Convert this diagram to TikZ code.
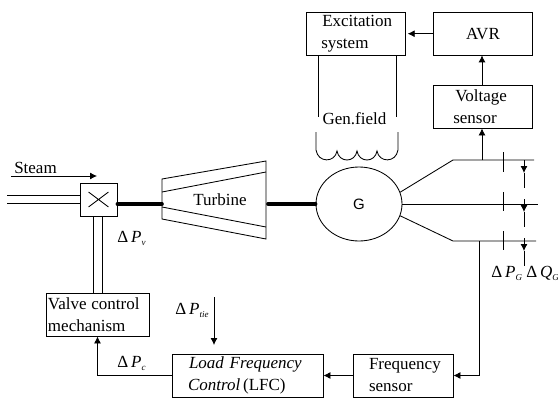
\documentclass[tikz,border=0pt]{standalone}
\usepackage{fontspec}
\setmainfont{Liberation Serif}
\newfontfamily\gfont{Liberation Sans}
\usetikzlibrary{arrows.meta,shapes.geometric,shapes.misc}
\newcommand{\deltalabel}[2]{\fontsize{17}{20}\selectfont\char"0394\,\textit{#1}\raisebox{-3pt}{\fontsize{9}{9}\selectfont\textit{#2}}}
\begin{document}
\begin{tikzpicture}[
            x=1pt, y=-1pt,
            line width=0.85pt,
            flow/.style={-{Latex[length=7pt,width=7pt]}},
            shaft/.style={line width=3.6pt, line cap=round},
            blockbox/.style={draw, rectangle, inner sep=2pt, align=left, font=\fontsize{17}{22}\selectfont},
            lbl/.style={inner sep=0pt, font=\fontsize{17}{20}\selectfont},
            dlabel/.style={inner sep=0pt, anchor=west}
        ]
            \useasboundingbox (0,0) rectangle (558,399);

            % Blocks
            \node[blockbox, text width=95.5pt, minimum height=42.5pt] (exc) at (356,33.7) {\hspace*{14pt}Excitation\\\hspace*{13pt}system};
            \node[blockbox, text width=95.5pt, minimum height=42.5pt, align=center] (avr) at (483,33.7) {AVR};
            \node[blockbox, text width=95.5pt, minimum height=43pt] (volt) at (483,106.5) {\hspace*{20pt}Voltage\\\hspace*{18pt}sensor};
            \node[blockbox, text width=99pt, minimum height=43pt] (valve) at (97.5,314.5) {Valve\hspace{-1pt} control\\mechanism};
            \node[blockbox, text width=147pt, minimum height=43pt] (lfc) at (247.5,375.5) {\hspace*{15pt}\textit{Load Frequency}\\\hspace*{14pt}\textit{Control}\,(LFC)};
            \node[blockbox, text width=96pt, minimum height=43pt] (freq) at (403,375.5) {\hspace*{14pt}Frequency\\\hspace*{14pt}sensor};

            % Valve
            \node[draw, rectangle, inner sep=0pt, minimum width=37pt, minimum height=33pt] (vbox) at (98.5,199.5) {};
            \node[draw, cross out, inner sep=0pt, minimum width=19pt, minimum height=14pt] (vcross) at (vbox.center) {};

            % Turbine
            \coordinate (t1) at (162,179);
            \coordinate (t2) at (266,161);
            \coordinate (t3) at (266,239);
            \coordinate (t4) at (162,219);
            \draw (t1) -- (t2) -- (t3) -- (t4) -- cycle;
            \draw (162,192) -- (266,172);
            \draw (162,207) -- (266,227);
            \node[lbl] (turb) at (220,200) {Turbine};
            \coordinate (tw) at (162,204);
            \coordinate (te) at (268,204);

            % Generator
            \node[draw, ellipse, inner sep=0pt, minimum width=86pt, minimum height=74pt, font=\gfont\fontsize{15}{18}\selectfont] (gen) at (359,204) {G};
            \draw[shaft] (vbox.east |- tw) -- (tw);
            \draw[shaft] (te) -- (gen.west);

            % Steam
            \coordinate (sa) at (7,195);
            \coordinate (sb) at (7,203);
            \draw (sa) -- (sa -| vbox.west);
            \draw (sb) -- (sb -| vbox.west);
            \coordinate (sc) at (11,176);
            \coordinate (sd) at (97,176);
            \draw[flow] (sc) -- (sd);
            \node[lbl] (steam) at (35.5,168) {Steam};

            % Valve stem
            \coordinate (va) at (93,293);
            \coordinate (vb) at (102,293);
            \draw (va) -- (va |- vbox.south);
            \draw (vb) -- (vb |- vbox.south);
            \node[dlabel] (dpv) at (117,238) {\deltalabel{P}{v}};

            % Field winding
            \draw (318,55) -- (318,117);
            \draw (396,55) -- (396,117);
            \node[lbl] (field) at (354.5,119) {Gen.field};
            \draw (316,132) -- (316,150)
                .. controls (318,163) and (335,163) .. (337,151)
                .. controls (339,163) and (355,163) .. (357,151)
                .. controls (359,163) and (375,163) .. (377,151)
                .. controls (379,163) and (396,163) .. (398,150) -- (398,132);

            % Three phase lines
            \coordinate (pa) at (453,160);
            \coordinate (pb) at (534,160);
            \coordinate (pc) at (538,204);
            \coordinate (pd) at (453,241);
            \coordinate (pe) at (536,241);
            \draw (gen.16) -- (pa) -- (pb);
            \draw (gen.east) -- (pc);
            \draw (gen.-16) -- (pd) -- (pe);
            \draw (503,152) -- (503,172);
            \draw (503,192) -- (503,211);
            \draw (503,231) -- (503,250);

            % Measurements
            \coordinate (ma) at (524,160);
            \coordinate (mb) at (524,173);
            \coordinate (mc) at (524,188);
            \coordinate (md) at (524,199);
            \coordinate (me) at (524,212);
            \coordinate (mf) at (524,227);
            \coordinate (mg) at (524,238);
            \coordinate (mh) at (524,251);
            \coordinate (mi) at (524,266);
            \draw[flow] (ma) -- (mb);
            \draw (mb) -- (mc);
            \draw[flow] (md) -- (me);
            \draw (me) -- (mf);
            \draw[flow] (mg) -- (mh);
            \draw (mh) -- (mi);
            \node[dlabel] (dpg) at (491,273) {\deltalabel{P}{G}};
            \node[dlabel] (dqg) at (526,273) {\deltalabel{Q}{G}};

            % Signals
            \coordinate (vt) at (482,160);
            \draw[flow] (vt) -- (vt |- volt.south);
            \draw[flow] (vt |- volt.north) -- (vt |- avr.south);
            \draw[flow] (avr.west) -- ([xshift=1.5pt]exc.east);

            \coordinate (ft) at (479,241);
            \draw[flow] (ft) |- (freq.east);
            \draw[flow] (freq.west) -- (lfc.east);
            \draw[flow] (lfc.west) -| (valve.south);
            \node[dlabel] (dpc) at (117,363) {\deltalabel{P}{c}};

            \coordinate (ta) at (214,297);
            \coordinate (tb) at (214,345);
            \draw[flow] (ta) -- (tb);
            \node[dlabel] (dpt) at (175,310) {\deltalabel{P}{tie}};
        \end{tikzpicture}
\end{document}
